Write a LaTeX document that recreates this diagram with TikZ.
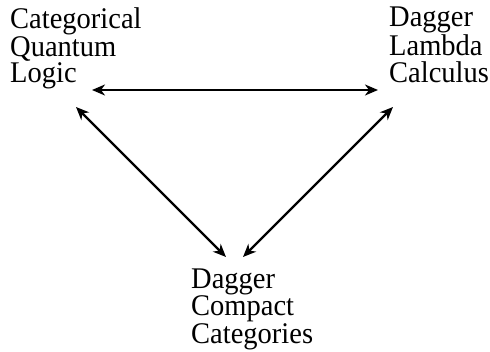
\documentclass[tikz,border=0pt]{standalone}
\usepackage{fontspec}
\setmainfont{Liberation Serif}
\newfontfamily\labfont[FakeStretch=0.95]{Liberation Serif}
\usetikzlibrary{arrows.meta}
\begin{document}
\begin{tikzpicture}[x=1pt,y=-1pt,
  lbl/.style={font=\labfont\fontsize{30}{#1}\selectfont, align=left, inner sep=0pt, anchor=base west},
  link/.style={line width=2.4pt, {Stealth[length=13pt,width=11pt,inset=4pt]}-{Stealth[length=13pt,width=11pt,inset=4pt]}}]
\useasboundingbox (0,0) rectangle (490,351);
\node[lbl=26] (cql) at (10,82) {Categorical\\Quantum\\Logic};
\node[lbl=27] (dlc) at (389,82) {Dagger\\Lambda\\Calculus};
\node[lbl=27.5] (dcc) at (191,343) {Dagger\\Compact\\Categories};
\coordinate (cqlR) at ([shift={(82,8)}]cql.base west);
\coordinate (cqlD) at ([shift={(66,25)}]cql.base west);
\coordinate (dlcL) at ([shift={(-11,8)}]dlc.base west);
\coordinate (dlcD) at ([shift={(4,25)}]dlc.base west);
\coordinate (dccL) at ([shift={(35,-86)}]dcc.base west);
\coordinate (dccR) at ([shift={(52,-86)}]dcc.base west);
\draw[link] (cqlR) -- (dlcL);
\draw[link] (cqlD) -- (dccL);
\draw[link] (dlcD) -- (dccR);
\end{tikzpicture}
\end{document}
